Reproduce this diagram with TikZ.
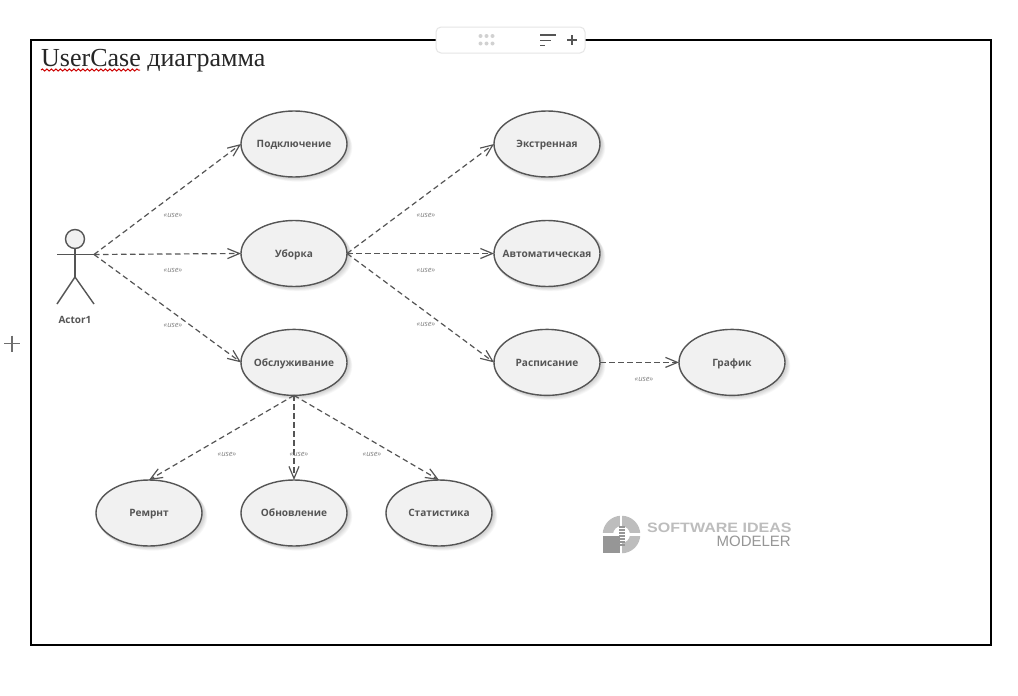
\documentclass[tikz,border=0pt]{standalone}
\usepackage{fontspec}
\setmainfont{Liberation Serif}
\newfontfamily\ucfont{Open Sans}
\newfontfamily\logofont{Liberation Sans}
\usetikzlibrary{arrows.meta,shapes.geometric,shadows,decorations.pathmorphing}
\definecolor{ink}{HTML}{555555}
\definecolor{ucfill}{HTML}{F1F1F1}
\definecolor{logoA}{HTML}{BDBDBD}
\definecolor{logoB}{HTML}{969696}
\newcommand{\uctext}[1]{\makebox[0pt]{\raisebox{-3.6pt}[0pt][0pt]{#1}}}
\tikzset{
  softshadow/.style={general shadow={fill=black,opacity=.028,shadow xshift=#1pt,shadow yshift=-#1pt,shadow scale=1.03}},
  usecase/.style={ellipse,draw=ink,line width=1.4pt,fill=ucfill,minimum width=106pt,minimum height=66pt,inner sep=0pt,outer sep=0pt,
    softshadow=.6,softshadow=1.2,softshadow=1.8,softshadow=2.4,softshadow=3,softshadow=3.6,
    text=ink,font=\ucfont\bfseries\fontsize{10.1}{12}\selectfont},
  uselink/.style={draw=ink,line width=1.2pt,dash pattern=on 5.5pt off 3.5pt,-{Straight Barb[length=12pt,width=10pt,line width=1.2pt]}},
  uselabel/.style={text=ink!75,inner sep=0pt,font=\ucfont\itshape\fontsize{7.6}{8}\selectfont},
  actorline/.style={draw=ink,line width=1.4pt},
  toolicon/.style={draw=#1,line width=1.8pt},
}
\begin{document}
\begin{tikzpicture}[x=1pt,y=-1pt]
\useasboundingbox (0,0) rectangle (1018,696);
\fill[white] (0,0) rectangle (1018,696);
% frame
\draw[black,line width=2pt] (31,40) rectangle (991,645);
% toolbar
\node[draw=black!10,line width=1pt,fill=white,rounded corners=5pt,minimum width=149pt,minimum height=26pt,inner sep=0pt] (toolbar) at (510.5,40) {};
\foreach \xx in {480.5,486.5,492.5}\foreach \yy in {36,43.5}{\fill[black!18] (\xx,\yy) circle (2pt);}
\draw[toolicon=ink] (540,35) -- (556,35);
\draw[toolicon=ink] (540,40.5) -- (551,40.5);
\draw[toolicon=ink] (540,45.5) -- (545,45.5);
\draw[toolicon=ink] (567,40) -- (577,40) (572,35) -- (572,45);
% outside plus
\draw[draw=ink!85,line width=1.4pt] (4,343.5) -- (20,343.5) (12,335.5) -- (12,351.5);
% title
\node[anchor=base west,inner sep=0pt,text=black!85,font=\fontsize{26}{30}\selectfont] (title) at (41,66) {UserCase диаграмма};
\draw[red!80!black,line width=1pt,decorate,decoration={snake,amplitude=1pt,segment length=4.5pt}] (41,70) -- (140,70);
% actor
\draw[actorline,fill=ucfill] (75,239) circle (9.5);
\draw[actorline] (75,248.5) -- (75,277);
\draw[actorline] (57,254.5) -- (94,254.5);
\draw[actorline] (57,304) -- (75,277) -- (94,304);
\coordinate (actor) at (94,254.5);
\node[text=ink,inner sep=0pt,font=\ucfont\bfseries\fontsize{10}{12}\selectfont] (actorname) at (75,320) {Actor1};
% use cases
\node[usecase] (podkl) at (294,144) {\uctext{Подключение}};
\node[usecase] (uborka) at (294,253.5) {\uctext{Уборка}};
\node[usecase] (obsl) at (294,362.4) {\uctext{Обслуживание}};
\node[usecase] (ekstr) at (547,144) {\uctext{Экстренная}};
\node[usecase] (avto) at (547,253.5) {\uctext{Автоматическая}};
\node[usecase] (rasp) at (547,362.4) {\uctext{Расписание}};
\node[usecase] (graf) at (732,362.4) {\uctext{График}};
\node[usecase] (remont) at (149,513) {\uctext{Ремрнт}};
\node[usecase] (obnov) at (294,513) {\uctext{Обновление}};
\node[usecase] (stat) at (439,513) {\uctext{Статистика}};
% links
\draw[uselink] (actor) -- (podkl.west);
\draw[uselink] (actor) -- (uborka.west);
\draw[uselink] (actor) -- (obsl.west);
\draw[uselink] (uborka.east) -- (ekstr.west);
\draw[uselink] (uborka.east) -- (avto.west);
\draw[uselink] (uborka.east) -- (rasp.west);
\draw[uselink] (rasp.east) -- (graf.west);
\draw[uselink] (obsl.south) -- (remont.north);
\draw[uselink,line width=1.7pt] (obsl.south) -- (obnov.north);
\draw[uselink] (obsl.south) -- (stat.north);
% link labels
\node[uselabel] (l1) at (173,215.5) {«use»};
\node[uselabel] (l2) at (173,270.5) {«use»};
\node[uselabel] (l3) at (173,325) {«use»};
\node[uselabel] (l4) at (426,215.5) {«use»};
\node[uselabel] (l5) at (426,270) {«use»};
\node[uselabel] (l6) at (426,324.5) {«use»};
\node[uselabel] (l7) at (644,379) {«use»};
\node[uselabel] (l8) at (227,454) {«use»};
\node[uselabel] (l9) at (299,454) {«use»};
\node[uselabel] (l10) at (372,454) {«use»};
% logo
\fill[logoA,even odd rule] (621.5,534.5) circle (18.8) (621.5,534.5) circle (8.5);
\fill[white] (620.2,514) rectangle (622.4,556);
\fill[white] (600,532.8) rectangle (642,536);
\fill[white] (602,536) rectangle (620.2,554);
\fill[logoB] (602.5,536) rectangle (620,553);
\foreach \yy in {526,529,...,544}{\fill[logoB] (618.5,\yy) rectangle (624.5,\yy+2);}
\node[anchor=base west,inner sep=0pt,text=logoA,xscale=1.18,font=\logofont\bfseries\fontsize{13.6}{14}\selectfont] (logo1) at (647,532.5) {\smash{SOFTWARE IDEAS}};
\node[anchor=base east,inner sep=0pt,text=logoB,font=\logofont\fontsize{15}{16}\selectfont] (logo2) at (791,546) {\smash{MODELER}};
\end{tikzpicture}
\end{document}
